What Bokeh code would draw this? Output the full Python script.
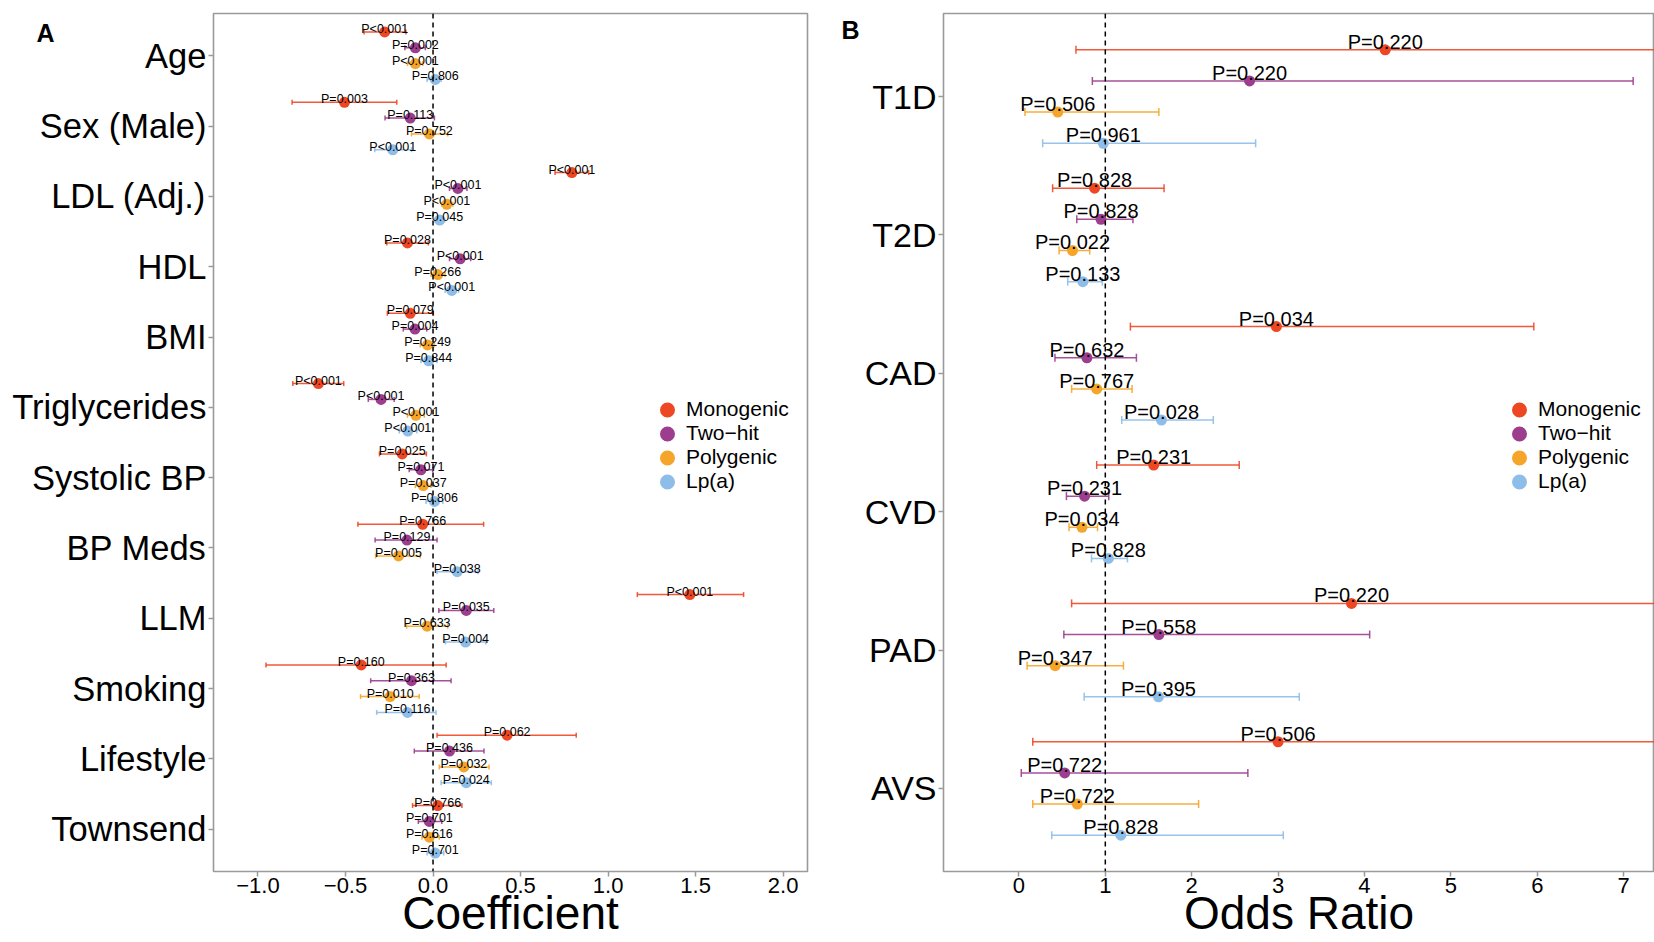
from bokeh.plotting import figure
from bokeh.models import (ColumnDataSource, Range1d, FixedTicker, Whisker, TeeHead, Span,
                          Legend, LegendItem, LinearAxis, Title)
from bokeh.layouts import row
from bokeh.core.properties import value
from bokeh.embed import file_html
from bokeh.resources import INLINE

FONT = "Liberation Sans"

# ---------------- data: panel A (coefficients) ----------------
traits = ["Age", "Sex (Male)", "LDL (Adj.)", "HDL", "BMI", "Triglycerides",
          "Systolic BP", "BP Meds", "LLM", "Smoking", "Lifestyle", "Townsend"]

series = ["Monogenic", "Two\u2212hit", "Polygenic", "Lp(a)"]
colors = ["#EE4724", "#9C3D8E", "#F5A52A", "#8DBDE8"]

a_mono_est = [-0.276, -0.506, 0.793, -0.146, -0.130, -0.655, -0.176, -0.059, 1.467, -0.410, 0.423, 0.027]
a_mono_lo = [-0.394, -0.805, 0.697, -0.264, -0.261, -0.801, -0.306, -0.429, 1.167, -0.954, 0.023, -0.117]
a_mono_hi = [-0.155, -0.207, 0.889, -0.027, 0.002, -0.510, -0.038, 0.289, 1.774, 0.075, 0.818, 0.165]
a_mono_p = ["P<0.001", "P=0.003", "P<0.001", "P=0.028", "P=0.079", "P<0.001",
            "P=0.025", "P=0.766", "P<0.001", "P=0.160", "P=0.062", "P=0.766"]

a_two_est = [-0.101, -0.130, 0.142, 0.155, -0.103, -0.297, -0.069, -0.149, 0.190, -0.123, 0.094, -0.021]
a_two_lo = [-0.161, -0.274, 0.094, 0.094, -0.170, -0.370, -0.136, -0.331, 0.033, -0.356, -0.107, -0.084]
a_two_hi = [-0.044, 0.008, 0.194, 0.215, -0.036, -0.222, -0.002, 0.023, 0.347, 0.103, 0.291, 0.050]
a_two_p = ["P=0.002", "P=0.113", "P<0.001", "P<0.001", "P=0.004", "P<0.001",
           "P=0.071", "P=0.129", "P=0.035", "P=0.363", "P=0.436", "P=0.701"]

a_poly_est = [-0.101, -0.021, 0.079, 0.027, -0.031, -0.098, -0.056, -0.197, -0.034, -0.245, 0.176, -0.021]
a_poly_lo = [-0.146, -0.123, 0.050, -0.011, -0.073, -0.146, -0.101, -0.328, -0.151, -0.414, 0.036, -0.063]
a_poly_hi = [-0.059, 0.084, 0.113, 0.069, 0.008, -0.050, -0.011, -0.073, 0.084, -0.079, 0.320, 0.036]
a_poly_p = ["P<0.001", "P=0.752", "P<0.001", "P=0.266", "P=0.249", "P<0.001",
            "P=0.037", "P=0.005", "P=0.633", "P=0.010", "P=0.032", "P=0.616"]

a_lpa_est = [0.013, -0.230, 0.038, 0.107, -0.025, -0.144, 0.008, 0.138, 0.186, -0.146, 0.190, 0.013]
a_lpa_lo = [-0.034, -0.333, 0.010, 0.069, -0.069, -0.193, -0.040, 0.023, 0.071, -0.322, 0.046, -0.034]
a_lpa_hi = [0.046, -0.123, 0.066, 0.146, 0.023, -0.092, 0.056, 0.257, 0.301, 0.017, 0.333, 0.061]
a_lpa_p = ["P=0.806", "P<0.001", "P=0.045", "P<0.001", "P=0.844", "P<0.001",
           "P=0.806", "P=0.038", "P=0.004", "P=0.116", "P=0.024", "P=0.701"]

a_ticks = [-1.0, -0.5, 0.0, 0.5, 1.0, 1.5, 2.0]
a_tick_labels = ["\u22121.0", "\u22120.5", "0.0", "0.5", "1.0", "1.5", "2.0"]

# ---------------- data: panel B (odds ratios) ----------------
outcomes = ["T1D", "T2D", "CAD", "CVD", "PAD", "AVS"]

b_mono_est = [4.24, 0.876, 2.98, 1.56, 3.85, 3.00]
b_mono_lo = [0.66, 0.39, 1.29, 0.90, 0.61, 0.16]
b_mono_hi = [27.0, 1.68, 5.96, 2.55, 24.0, 55.0]
b_mono_p = ["P=0.220", "P=0.828", "P=0.034", "P=0.231", "P=0.220", "P=0.506"]

b_two_est = [2.67, 0.95, 0.787, 0.76, 1.62, 0.53]
b_two_lo = [0.85, 0.67, 0.417, 0.55, 0.52, 0.027]
b_two_hi = [7.11, 1.32, 1.36, 1.04, 4.06, 2.65]
b_two_p = ["P=0.220", "P=0.828", "P=0.632", "P=0.231", "P=0.558", "P=0.722"]

b_poly_est = [0.45, 0.62, 0.90, 0.73, 0.42, 0.676]
b_poly_lo = [0.07, 0.465, 0.61, 0.58, 0.095, 0.16]
b_poly_hi = [1.62, 0.82, 1.31, 0.91, 1.21, 2.08]
b_poly_p = ["P=0.506", "P=0.022", "P=0.767", "P=0.034", "P=0.347", "P=0.722"]

b_lpa_est = [0.977, 0.74, 1.65, 1.035, 1.615, 1.18]
b_lpa_lo = [0.275, 0.565, 1.19, 0.84, 0.755, 0.38]
b_lpa_hi = [2.74, 0.966, 2.25, 1.256, 3.245, 3.06]
b_lpa_p = ["P=0.961", "P=0.133", "P=0.028", "P=0.828", "P=0.395", "P=0.828"]

b_ticks = [0, 1, 2, 3, 4, 5, 6, 7]

DODGE = 0.9
GREY = "#9a9a9a"


def build_panel(cats, data, xr, width, height, mb, ref_x, ylab_size, ptxt_size, ptxt_off,
                tee, title, title_standoff, letter, legend_loc, xticks, xlabels):
    n = len(cats)
    y0, y1 = 0.4, n + 0.6
    p = figure(width=width, height=height, x_range=Range1d(*xr), y_range=Range1d(y0, y1),
               output_backend="svg", toolbar_location=None, x_axis_location=None,
               y_axis_location=None,
               min_border_left=mb[0], min_border_right=mb[1],
               min_border_top=mb[2], min_border_bottom=mb[3])
    p.xgrid.visible = False
    p.ygrid.visible = False
    p.outline_line_color = GREY
    p.outline_line_width = 1.6
    p.background_fill_color = "white"
    p.border_fill_color = "white"

    centers = [n - i for i in range(n)]
    legend_items = []
    for k, (est, lo, hi, pv) in enumerate(data):
        off = (1.5 - k) * DODGE / 4.0
        src = ColumnDataSource(dict(y=[c + off for c in centers], est=est, lo=lo, hi=hi, p=pv))
        c = colors[k]
        w = Whisker(source=src, base="y", lower="lo", upper="hi", dimension="width",
                    line_color=c, line_width=1.5, line_alpha=0.9, level="underlay",
                    lower_head=TeeHead(size=tee, line_color=c, line_width=1.5, line_alpha=0.9),
                    upper_head=TeeHead(size=tee, line_color=c, line_width=1.5, line_alpha=0.9))
        p.add_layout(w)
        p.scatter(x="est", y="y", source=src, size=11, fill_color=c, line_color=None)
        p.text(x="est", y="y", text="p", source=src, text_align="center",
               text_baseline="alphabetic", y_offset=ptxt_off,
               text_font=value(FONT), text_font_size=ptxt_size, text_color="black")
        # legend-only renderer (no visible data point)
        dummy = p.scatter(x=[float("nan")], y=[float("nan")], size=8,
                          fill_color=c, line_color=c, line_width=7)
        legend_items.append(LegendItem(label=series[k], renderers=[dummy]))

    p.add_layout(Span(location=ref_x, dimension="height", line_color="black",
                      line_width=1.5, line_dash="5 4"))

    leg = Legend(items=legend_items, location=legend_loc, orientation="vertical",
                 label_text_font=FONT, label_text_font_size="21px", label_text_color="black",
                 glyph_width=20, glyph_height=23, label_height=23, spacing=0, padding=0,
                 margin=0, label_standoff=9, border_line_color=None, background_fill_alpha=0)
    p.add_layout(leg)

    xa = LinearAxis(ticker=FixedTicker(ticks=xticks))
    if xlabels is not None:
        xa.major_label_overrides = {t: l for t, l in zip(xticks, xlabels)}
    ya = LinearAxis(ticker=FixedTicker(ticks=centers),
                    major_label_overrides={c: cats[i] for i, c in enumerate(centers)})
    for ax in (xa, ya):
        ax.axis_line_color = None
        ax.major_tick_line_color = GREY
        ax.major_tick_line_width = 1.5
        ax.major_tick_out = 5
        ax.major_tick_in = 0
        ax.minor_tick_line_color = None
        ax.major_label_text_font = FONT
        ax.major_label_text_color = "black"
    ya.major_label_text_font_size = ylab_size
    ya.major_label_standoff = 2
    xa.major_label_text_font_size = "22px"
    xa.major_label_standoff = 1
    p.add_layout(xa, "below")
    p.add_layout(ya, "left")

    # axis title, below the tick labels
    p.add_layout(Title(text=title, align="center", vertical_align="bottom",
                       text_font=FONT, text_font_size="46px", text_font_style="normal",
                       text_color="black", standoff=title_standoff), "below")

    # panel letter: an outer one-tick axis on the left
    fh = height - mb[2] - mb[3]
    y_letter = y1 - letter[1] * (y1 - y0) / fh
    la = LinearAxis(ticker=FixedTicker(ticks=[y_letter]),
                    major_label_overrides={y_letter: letter[2]})
    la.axis_line_color = None
    la.major_tick_line_color = None
    la.minor_tick_line_color = None
    la.major_tick_out = 0
    la.major_tick_in = 0
    la.major_label_standoff = letter[0]
    la.major_label_text_font = FONT
    la.major_label_text_font_size = "25px"
    la.major_label_text_font_style = "bold"
    la.major_label_text_color = "black"
    p.add_layout(la, "left")
    return p


pA = build_panel(traits,
                 [(a_mono_est, a_mono_lo, a_mono_hi, a_mono_p),
                  (a_two_est, a_two_lo, a_two_hi, a_two_p),
                  (a_poly_est, a_poly_lo, a_poly_hi, a_poly_p),
                  (a_lpa_est, a_lpa_lo, a_lpa_hi, a_lpa_p)],
                 xr=(-1.254, 2.139), width=838, height=942, mb=(213, 31, 13, 71), ref_x=0,
                 ylab_size="34.5px", ptxt_size="12.5px", ptxt_off=-3, tee=5,
                 title="Coefficient", title_standoff=-22, letter=(-45, 19.5, "A"),
                 legend_loc=(444, 378), xticks=a_ticks, xlabels=a_tick_labels)

pB = build_panel(outcomes,
                 [(b_mono_est, b_mono_lo, b_mono_hi, b_mono_p),
                  (b_two_est, b_two_lo, b_two_hi, b_two_p),
                  (b_poly_est, b_poly_lo, b_poly_hi, b_poly_p),
                  (b_lpa_est, b_lpa_lo, b_lpa_hi, b_lpa_p)],
                 xr=(-0.873, 7.357), width=816, height=942, mb=(105, 0, 13, 71), ref_x=1,
                 ylab_size="34px", ptxt_size="20px", ptxt_off=-8, tee=8,
                 title="Odds Ratio", title_standoff=-22, letter=(2, 16, "B"),
                 legend_loc=(566, 378), xticks=b_ticks, xlabels=None)

layout = row(pA, pB)
open("out.html", "w").write(file_html(layout, INLINE))
